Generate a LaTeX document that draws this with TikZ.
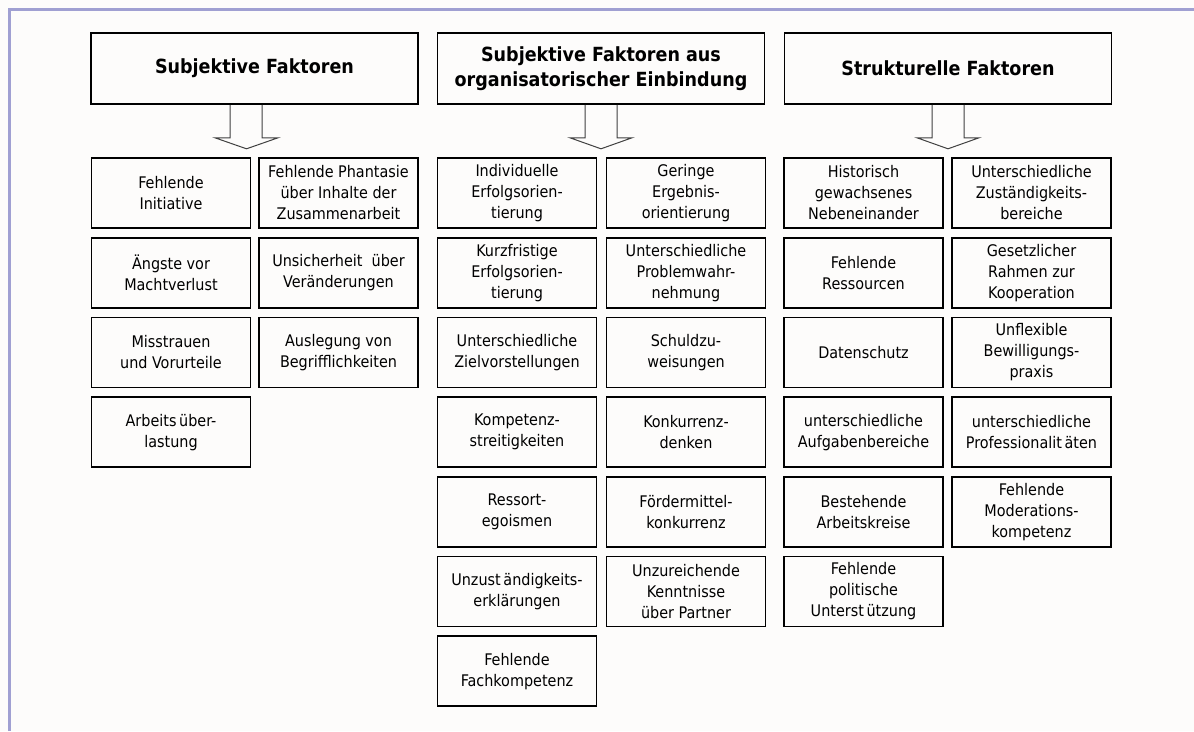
\documentclass[tikz,border=0pt]{standalone}
\usepackage{fontspec}
\setmainfont{DejaVu Sans Condensed}

\definecolor{frame}{RGB}{160,160,210}
\definecolor{paper}{RGB}{253,252,251}

\tikzset{
    head/.style = {draw, line width = 1.6pt, minimum width = 327pt, minimum height = 71pt, inner sep = 0pt,
        align = center, font = \fontsize{19.5}{25}\selectfont\bfseries},
    item/.style = {draw, line width = 1.6pt, minimum width = 159pt, minimum height = 70pt, inner sep = 0pt,
        align = center, font = \fontsize{16}{21}\selectfont},
    hollow/.style = {draw = black!75, line width = 1pt}
}

\begin{document}
\begin{tikzpicture}[x = 1pt, y = -1pt]
    \useasboundingbox (0,0) rectangle (1194,731);
    \fill[paper] (0,0) rectangle (1194,731);
    \draw[frame, line width = 3.5pt] (9.5,731) -- (9.5,9.5) -- (1194,9.5);
    
    % headers
    \node[head] (subj) at (254.5,68.5) {Subjektive Faktoren};
    \node[head] (orga) at (601,68.5) {Subjektive Faktoren aus\\organisatorischer Einbindung};
    \node[head] (struk) at (948,68.5) {Strukturelle Faktoren};
    
    % hollow arrows
    \draw[hollow, shift = {(subj.south)}] (-24.5,0) -- (-24.5,33) -- (-39.5,33) -- (-8,44) -- (23.5,33) -- (7.5,33) -- (7.5,0);
    \draw[hollow, shift = {(orga.south)}] (-16,0) -- (-16,33) -- (-31,33) -- (0,44) -- (31,33) -- (16,33) -- (16,0);
    \draw[hollow, shift = {(struk.south)}] (-16,0) -- (-16,33) -- (-31,33) -- (0,44) -- (31,33) -- (16,33) -- (16,0);
    
    % subjektive faktoren
    \foreach \txt [count = \i from 0] in {{Fehlende\\Initiative}, {Ängste vor\\Machtverlust},
        {Misstrauen\\und Vorurteile}, {Arbeits\,über-\\lastung}}
        \node[item] (subj-a\i) at (171,{193 + 79.7*\i}) {\txt};
    \foreach \txt [count = \i from 0] in {{Fehlende Phantasie\\über Inhalte der\\Zusammenarbeit},
        {Unsicherheit\ \ über\\Veränderungen}, {Auslegung von\\Begrifflichkeiten}}
        \node[item] (subj-b\i) at (338.5,{193 + 79.7*\i}) {\txt};
    
    % organisatorische einbindung
    \foreach \txt [count = \i from 0] in {{Individuelle\\Erfolgsorien-\\tierung}, {Kurzfristige\\Erfolgsorien-\\tierung},
        {Unterschiedliche\\Zielvorstellungen}, {Kompetenz-\\streitigkeiten}, {Ressort-\\egoismen},
        {Unzust\,ändigkeits-\\erklärungen}, {Fehlende\\Fachkompetenz}}
        \node[item] (orga-a\i) at (517,{193 + 79.7*\i}) {\txt};
    \foreach \txt [count = \i from 0] in {{Geringe\\Ergebnis-\\orientierung}, {Unterschiedliche\\Problemwahr-\\nehmung},
        {Schuldzu-\\weisungen}, {Konkurrenz-\\denken}, {Fördermittel-\\konkurrenz},
        {Unzureichende\\Kenntnisse\\über Partner}}
        \node[item] (orga-b\i) at (686,{193 + 79.7*\i}) {\txt};
    
    % strukturelle faktoren
    \foreach \txt [count = \i from 0] in {{Historisch\\gewachsenes\\Nebeneinander}, {Fehlende\\Ressourcen},
        {Datenschutz}, {unterschiedliche\\Aufgabenbereiche}, {Bestehende\\Arbeitskreise},
        {Fehlende\\politische\\Unterst\,ützung}}
        \node[item] (struk-a\i) at (863.5,{193 + 79.7*\i}) {\txt};
    \foreach \txt [count = \i from 0] in {{Unterschiedliche\\Zuständigkeits-\\bereiche}, {Gesetzlicher\\Rahmen zur\\Kooperation},
        {Unflexible\\Bewilligungs-\\praxis}, {unterschiedliche\\Professionalit\,äten},
        {Fehlende\\Moderations-\\kompetenz}}
        \node[item] (struk-b\i) at (1031.5,{193 + 79.7*\i}) {\txt};
\end{tikzpicture}
\end{document}
